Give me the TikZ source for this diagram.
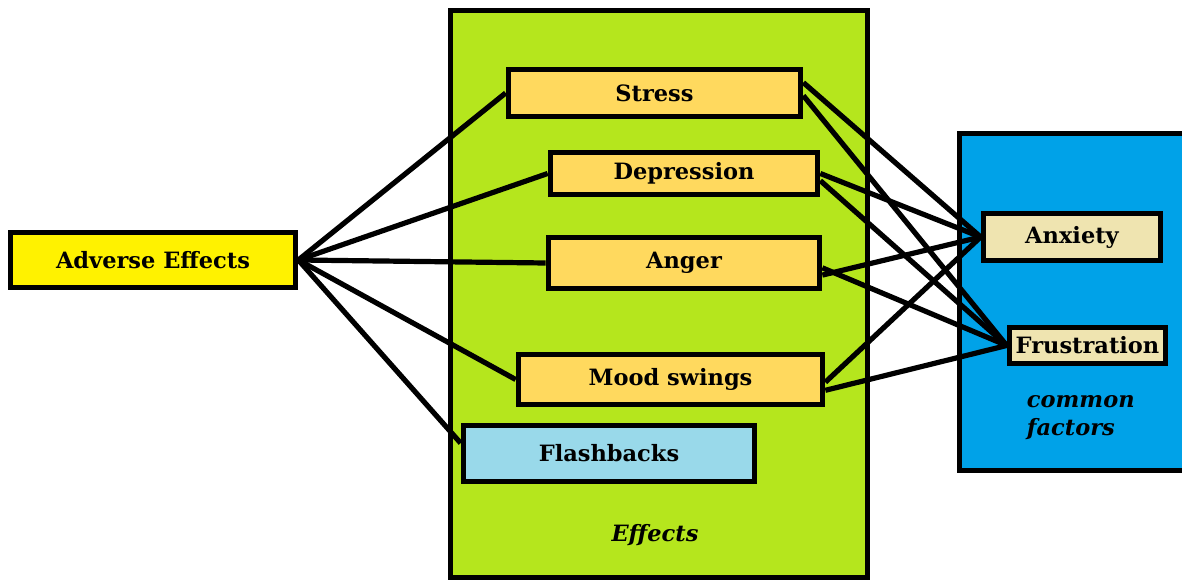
\documentclass[tikz,border=0pt]{standalone}
\usepackage{fontspec}
\setmainfont{DejaVu Serif}
\usepackage{tikz}
\usetikzlibrary{positioning}

\definecolor{adverseyellow}{HTML}{FFF200}
\definecolor{effectsgreen}{HTML}{B5E61D}
\definecolor{effectbox}{HTML}{FFD95E}
\definecolor{flashblue}{HTML}{99D9EA}
\definecolor{commonblue}{HTML}{00A2E8}
\definecolor{factorbox}{HTML}{EFE4B0}

\begin{document}
\begin{tikzpicture}[
			x=0.025cm, y=-0.025cm,
			every node/.style={font=\fontsize{16}{19}\selectfont\bfseries},
			box/.style={draw, line width=1.4mm, inner sep=0pt},
			link/.style={line width=1.3mm},
			tag/.style={font=\fontsize{16}{20}\selectfont\bfseries\itshape}
		]
		\clip (0,0) rectangle (1182,582);
		\node[box, fill=effectsgreen, minimum width=10.425cm, minimum height=14.175cm] (effects) at (659,294) {};
		\node[box, fill=commonblue, minimum width=6.0125cm, minimum height=8.425cm] (common) at (1079.75,302) {};
		\node[box, fill=adverseyellow, minimum width=7.125cm, minimum height=1.375cm] (adverse) at (153,260) {Adverse Effects};
		\node[box, fill=effectbox, minimum width=7.3cm, minimum height=1.175cm] (stress) at (654.5,93) {Stress};
		\node[box, fill=effectbox, minimum width=6.675cm, minimum height=1.05cm] (depression) at (684,173.5) {Depression};
		\node[box, fill=effectbox, minimum width=6.775cm, minimum height=1.275cm] (anger) at (684,263) {Anger};
		\node[box, fill=effectbox, minimum width=7.6cm, minimum height=1.25cm] (mood) at (670.5,379.5) {Mood swings};
		\node[box, fill=flashblue, minimum width=7.275cm, minimum height=1.4cm] (flash) at (609,453.5) {Flashbacks};
		\node[box, fill=factorbox, minimum width=4.425cm, minimum height=1.175cm] (anxiety) at (1072,237) {Anxiety};
		\node[box, fill=factorbox, minimum width=3.9cm, minimum height=0.9cm] (frustration) at (1087.5,345.5) {Frustration};
		\node[tag] (effectslabel) at (655,535) {Effects};
		\node[tag, anchor=west, align=left] (commonlabel) at (1022,418) {common\\factors};
		\foreach \n in {stress,depression,anger,mood}
			\draw[link] (adverse.east) -- (\n.west);
		\draw[link] (adverse.east) -- (flash.176);
		\draw[link] (stress.4) -- (anxiety.west);
		\draw[link] (stress.-1) -- (frustration.west);
		\draw[link] (depression.east) -- (anxiety.west);
		\draw[link] (depression.-3) -- (frustration.west);
		\draw[link] (anger.-5) -- (anxiety.west);
		\draw[link] (anger.-2) -- (frustration.west);
		\draw[link] (mood.-1) -- (anxiety.west);
		\draw[link] (mood.-4) -- (frustration.west);
	\end{tikzpicture}
\end{document}
